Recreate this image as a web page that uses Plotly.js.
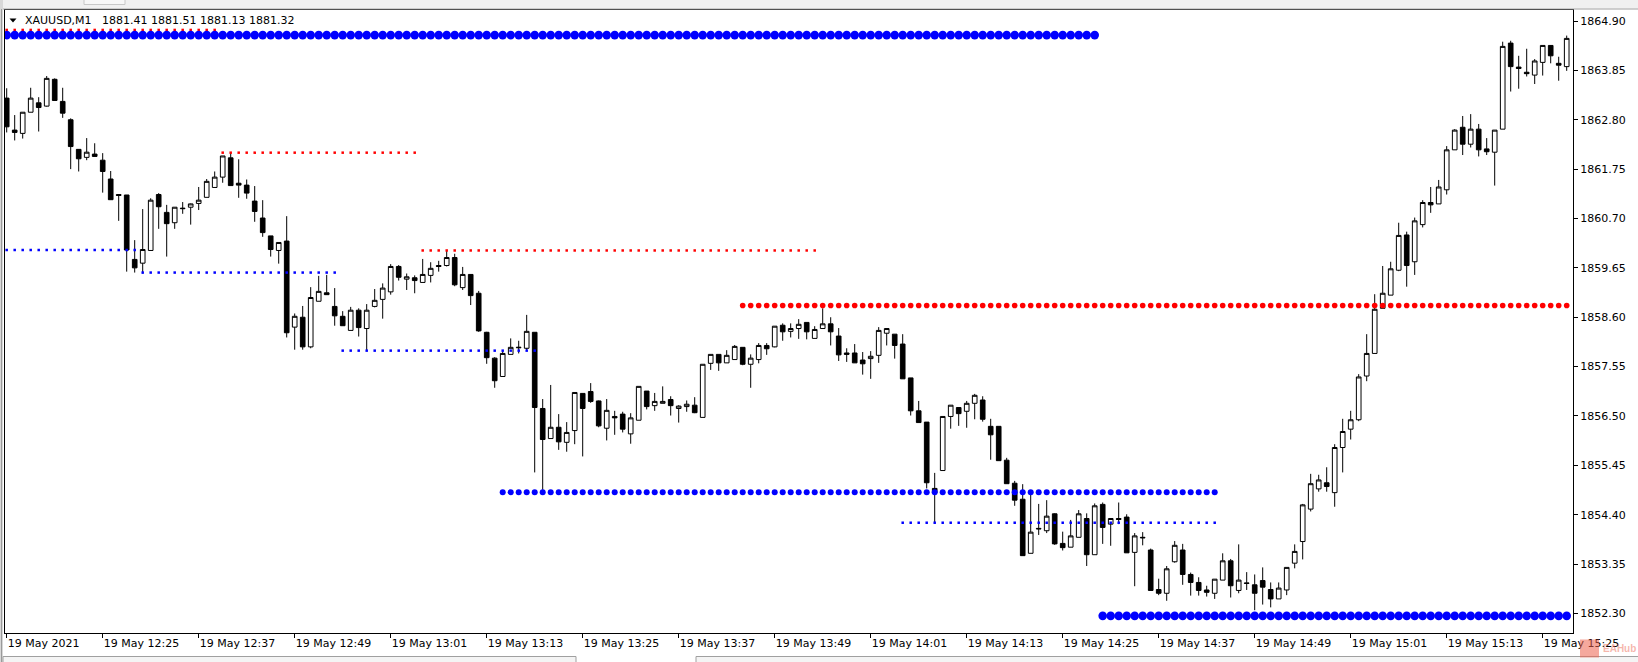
<!DOCTYPE html>
<html>
<head>
<meta charset="utf-8">
<script src="https://cdn.plot.ly/plotly-3.0.1.min.js"></script>
<style>
html,body{margin:0;padding:0;background:#ffffff;overflow:hidden;}
#chart{width:1638px;height:662px;}
</style>
</head>
<body>
<div id="chart"></div>
<script>
// ---------------- DATA ----------------
const symbolTitle = "XAUUSD,M1";
const headerQuote = ["1881.41", "1881.51", "1881.13", "1881.32"];

const tickLabels = ["19 May 2021","19 May 12:25","19 May 12:37","19 May 12:49","19 May 13:01",
  "19 May 13:13","19 May 13:25","19 May 13:37","19 May 13:49","19 May 14:01","19 May 14:13",
  "19 May 14:25","19 May 14:37","19 May 14:49","19 May 15:01","19 May 15:13","19 May 15:25"];
const barsPerTick = 12;

const priceTicks = [1852.30,1853.35,1854.40,1855.45,1856.50,1857.55,1858.60,1859.65,1860.70,1861.75,1862.80,1863.85,1864.90];

const openP = [
1863.26,1862.58,1862.51,1862.96,1863.16,1863.09,1863.66,1863.19,1862.80,1862.17,
1862.00,1862.07,1861.94,1861.54,1861.21,1861.20,1859.83,1859.75,1860.02,1861.21,
1860.83,1860.61,1860.92,1860.94,1861.02,1861.15,1861.36,1861.58,1861.99,1861.45,
1861.41,1861.07,1860.71,1860.33,1860.02,1860.22,1858.39,1858.60,1857.97,1858.94,
1859.12,1858.83,1858.62,1858.32,1858.75,1858.36,1858.83,1858.98,1859.14,1859.68,
1859.41,1859.44,1859.34,1859.49,1859.70,1859.70,1859.87,1859.23,1859.51,1859.11,
1858.28,1857.73,1857.34,1857.81,1857.95,1857.94,1858.28,1856.66,1856.02,1856.26,
1855.94,1856.19,1856.98,1857.02,1856.82,1856.24,1856.49,1856.54,1856.12,1856.41,
1857.03,1856.72,1856.77,1856.85,1856.66,1856.70,1856.73,1856.47,1857.62,1857.81,
1857.63,1857.70,1857.96,1857.60,1857.70,1858.00,1857.97,1858.43,1858.30,1858.36,
1858.49,1858.15,1858.36,1858.46,1858.20,1857.84,1857.84,1857.69,1857.72,1857.79,
1858.26,1858.24,1858.03,1857.31,1856.61,1856.37,1854.96,1855.34,1856.49,1856.68,
1856.60,1856.77,1856.84,1856.28,1856.28,1855.56,1855.07,1854.73,1853.58,1854.11,
1854.06,1854.42,1853.79,1853.71,1853.92,1854.32,1853.55,1854.62,1854.20,1854.32,
1854.35,1853.60,1853.92,1853.65,1852.81,1852.73,1853.40,1853.65,1853.13,1852.96,
1852.80,1852.73,1853.01,1853.42,1852.79,1852.95,1852.91,1853.00,1852.81,1852.61,
1852.80,1853.37,1853.83,1854.52,1854.95,1855.08,1854.87,1855.83,1856.22,1856.42,
1857.35,1857.83,1858.79,1859.07,1859.60,1860.35,1859.78,1860.57,1861.04,1861.01,
1861.31,1862.16,1862.64,1862.28,1862.60,1862.18,1862.11,1862.60,1864.43,1863.92,
1863.81,1863.75,1864.02,1864.38,1864.00,1863.93];

const highP = [
1863.47,1862.90,1862.96,1863.48,1863.28,1863.73,1863.68,1863.48,1862.83,1862.17,
1862.41,1862.30,1862.09,1861.71,1861.21,1861.20,1860.24,1860.90,1861.13,1861.24,
1860.99,1860.94,1861.05,1861.02,1861.37,1861.54,1861.70,1862.03,1862.10,1861.96,
1861.53,1861.39,1861.09,1860.33,1860.19,1860.75,1858.68,1858.84,1859.24,1859.48,
1859.50,1859.22,1858.73,1858.82,1858.79,1858.88,1859.20,1859.32,1859.73,1859.71,
1859.53,1859.49,1859.84,1859.77,1859.80,1860.01,1859.95,1859.67,1859.51,1859.16,
1858.29,1857.75,1857.88,1858.15,1858.10,1858.65,1858.28,1856.86,1857.16,1856.54,
1856.37,1857.00,1856.98,1857.20,1856.83,1856.86,1856.61,1856.59,1856.56,1857.13,
1857.03,1856.99,1857.13,1856.92,1856.73,1856.83,1856.90,1857.60,1857.81,1857.81,
1857.90,1858.01,1857.96,1857.81,1858.05,1858.05,1858.41,1858.47,1858.47,1858.56,
1858.49,1858.41,1858.79,1858.60,1858.37,1857.94,1858.03,1857.86,1857.88,1858.39,
1858.36,1858.24,1858.24,1857.31,1856.82,1856.37,1855.29,1856.49,1856.73,1856.68,
1856.82,1856.97,1856.92,1856.44,1856.28,1855.61,1855.12,1855.05,1854.86,1854.63,
1854.71,1854.43,1854.04,1854.29,1854.50,1854.43,1854.64,1854.66,1854.32,1854.66,
1854.41,1854.01,1854.03,1853.68,1853.04,1853.31,1853.84,1853.78,1853.17,1853.07,
1852.89,1853.03,1853.58,1853.46,1853.77,1853.18,1853.13,1853.28,1852.96,1852.96,
1853.28,1853.77,1854.63,1855.27,1855.25,1855.41,1855.90,1856.44,1856.61,1857.39,
1858.24,1859.09,1859.69,1859.78,1860.61,1860.42,1860.72,1861.09,1861.37,1861.52,
1862.24,1862.60,1862.88,1862.92,1862.71,1862.41,1862.58,1864.46,1864.48,1864.16,
1864.31,1864.09,1864.38,1864.38,1864.14,1864.59];

const lowP = [
1862.53,1862.36,1862.40,1862.96,1862.55,1863.08,1863.21,1862.84,1861.75,1861.70,
1861.94,1862.02,1861.25,1861.10,1860.65,1859.57,1859.55,1859.53,1860.02,1860.48,
1859.89,1860.48,1860.80,1860.57,1860.88,1861.15,1861.36,1861.46,1861.40,1861.14,
1861.12,1860.63,1860.31,1859.89,1859.74,1858.17,1857.91,1857.91,1857.94,1858.94,
1859.08,1858.42,1858.42,1858.32,1858.19,1857.89,1858.81,1858.57,1859.08,1859.38,
1859.18,1859.11,1859.34,1859.34,1859.57,1859.68,1859.26,1859.18,1858.86,1858.29,
1857.61,1857.10,1857.34,1857.81,1857.83,1857.90,1855.30,1854.93,1856.02,1855.78,
1855.74,1855.90,1855.64,1856.78,1856.26,1855.98,1856.10,1856.15,1855.91,1856.41,
1856.64,1856.61,1856.77,1856.51,1856.36,1856.59,1856.56,1856.47,1857.48,1857.46,
1857.63,1857.70,1857.58,1857.10,1857.62,1857.80,1857.96,1858.10,1858.17,1858.14,
1858.13,1858.15,1858.36,1858.00,1857.67,1857.65,1857.63,1857.38,1857.29,1857.63,
1858.00,1857.72,1857.29,1856.51,1856.36,1854.96,1854.22,1855.34,1856.23,1856.29,
1856.25,1856.43,1856.38,1855.57,1855.55,1855.06,1854.59,1853.53,1853.58,1853.97,
1854.01,1853.76,1853.64,1853.71,1853.92,1853.31,1853.55,1853.78,1853.74,1854.20,
1853.59,1852.88,1853.75,1852.79,1852.69,1852.57,1853.38,1852.91,1852.68,1852.68,
1852.66,1852.61,1853.01,1852.64,1852.73,1852.80,1852.37,1852.49,1852.43,1852.61,
1852.69,1853.26,1853.45,1854.47,1854.89,1854.89,1854.57,1855.30,1856.00,1856.39,
1857.24,1857.83,1858.79,1859.07,1859.58,1859.25,1859.50,1860.51,1860.82,1861.01,
1861.21,1862.16,1862.05,1862.21,1862.02,1862.05,1861.40,1862.60,1863.40,1863.46,
1863.72,1863.56,1863.74,1864.00,1863.63,1863.84];

const closeP = [
1862.65,1862.53,1862.96,1863.26,1863.06,1863.68,1863.21,1862.94,1862.23,1861.97,
1862.11,1862.02,1861.70,1861.10,1861.19,1860.03,1859.65,1860.04,1861.09,1860.95,
1860.59,1860.94,1860.91,1861.01,1861.09,1861.49,1861.58,1862.03,1861.40,1861.41,
1861.24,1860.85,1860.40,1860.04,1860.19,1858.27,1858.62,1857.97,1859.02,1859.15,
1859.08,1858.63,1858.42,1858.75,1858.38,1858.75,1858.96,1859.22,1859.68,1859.45,
1859.46,1859.38,1859.51,1859.64,1859.68,1859.87,1859.29,1859.51,1859.06,1858.31,
1857.74,1857.25,1857.83,1857.96,1857.96,1858.30,1856.68,1856.00,1856.26,1855.95,
1856.15,1857.00,1856.66,1856.81,1856.29,1856.62,1856.46,1856.22,1856.46,1857.13,
1856.70,1856.81,1856.81,1856.72,1856.71,1856.75,1856.57,1857.60,1857.81,1857.63,
1857.79,1857.98,1857.60,1857.73,1858.00,1857.93,1858.41,1858.29,1858.36,1858.45,
1858.29,1858.34,1858.46,1858.29,1857.80,1857.81,1857.63,1857.61,1857.77,1858.32,
1858.36,1858.00,1857.29,1856.61,1856.36,1855.08,1854.87,1856.49,1856.73,1856.55,
1856.77,1856.94,1856.43,1856.10,1855.55,1855.06,1854.71,1853.53,1854.03,1854.10,
1854.37,1853.78,1853.70,1853.95,1854.42,1853.55,1854.59,1854.13,1854.32,1854.30,
1853.59,1853.95,1853.91,1852.79,1852.73,1853.25,1853.75,1853.13,1852.96,1852.79,
1852.75,1853.03,1853.42,1852.89,1853.01,1852.94,1852.73,1852.86,1852.61,1852.84,
1853.28,1853.62,1854.61,1855.06,1855.14,1855.00,1855.83,1856.17,1856.42,1857.33,
1857.83,1858.77,1859.11,1859.63,1860.34,1859.70,1860.65,1861.04,1860.99,1861.37,
1862.16,1862.58,1862.28,1862.60,1862.16,1862.12,1862.58,1864.36,1863.93,1863.89,
1863.78,1864.05,1864.38,1864.16,1863.96,1864.53];

// indicator levels (price) with first/last bar index
const strongSupportLevels = [1864.60, 1852.25];
const strongSupportFrom   = [0, 137];
const strongSupportTo     = [136, 195];

const supportLevels = [1854.88];
const supportFrom   = [62];
const supportTo     = [151];

const resistanceLevels = [1858.85];
const resistanceFrom   = [92];
const resistanceTo     = [195];

const minorSupportLevels = [1860.03, 1859.55, 1857.89, 1854.23];
const minorSupportFrom   = [0, 17, 42, 112];
const minorSupportTo     = [16, 41, 66, 151];

const minorResistanceLevels = [1864.71, 1862.10, 1860.02];
const minorResistanceFrom   = [0, 27, 52];
const minorResistanceTo     = [26, 51, 101];

// ---------------- LAYOUT GEOMETRY ----------------
const W = 1638, H = 662;
const ML = 5, MT = 10, PW = 1568, PH = 623;
const px = x => (x - ML) / PW;
const py = y => 1 - (y - MT) / PH;

const barIdx = openP.map((_, i) => i);
const tickIdx = tickLabels.map((_, k) => k * barsPerTick);

function levelTrace(levels, from, to, color, size, symbol) {
  const xs = [], ys = [];
  levels.forEach((lv, k) => {
    for (let i = from[k]; i <= to[k]; i++) { xs.push(i); ys.push(lv); }
    xs.push(null); ys.push(null);
  });
  return {type:'scatter', mode:'markers', x:xs, y:ys, hoverinfo:'skip',
    marker:{color:color, size:size, symbol:symbol, line:{width:0}}, cliponaxis:true};
}

const traces = [
  {type:'candlestick', x:barIdx, open:openP, high:highP, low:lowP, close:closeP,
   increasing:{line:{color:'#000000', width:1}, fillcolor:'#ffffff'},
   decreasing:{line:{color:'#000000', width:1}, fillcolor:'#000000'},
   whiskerwidth:0, hoverinfo:'skip'},
  levelTrace(minorResistanceLevels, minorResistanceFrom, minorResistanceTo, '#ff0000', 2.5, 'square'),
  levelTrace(minorSupportLevels, minorSupportFrom, minorSupportTo, '#0000ff', 2.5, 'square'),
  levelTrace(resistanceLevels, resistanceFrom, resistanceTo, '#ff0000', 5.6, 'circle'),
  levelTrace(supportLevels, supportFrom, supportTo, '#0000ff', 6, 'circle'),
  levelTrace(strongSupportLevels, strongSupportFrom, strongSupportTo, '#0000ff', 8.6, 'circle')
];

const FONT = 'DejaVu Sans';

const shapes = [
  // window chrome top strip
  {type:'rect', xref:'paper', yref:'paper', x0:px(0), x1:px(W), y0:py(0), y1:py(8.5),
   fillcolor:'#f0f0f0', line:{width:0}, layer:'below'},
  {type:'rect', xref:'paper', yref:'paper', x0:px(84), x1:px(125), y0:py(-2), y1:py(4.5),
   fillcolor:'#f7f7f7', line:{color:'#c8c8c8', width:1}},
  {type:'line', xref:'paper', yref:'paper', x0:px(2), x1:px(W), y0:py(9), y1:py(9),
   line:{color:'#a0a0a0', width:1}},
  // left window border
  {type:'rect', xref:'paper', yref:'paper', x0:px(0), x1:px(3), y0:py(0), y1:py(H),
   fillcolor:'#d8d8d8', line:{width:0}},
  {type:'line', xref:'paper', yref:'paper', x0:px(1.5), x1:px(1.5), y0:py(9), y1:py(H),
   line:{color:'#9a9a9a', width:1}},
  // bottom tabs
  {type:'rect', xref:'paper', yref:'paper', x0:px(3), x1:px(576), y0:py(656.5), y1:py(664),
   fillcolor:'#f4f4f4', line:{color:'#a0a0a0', width:1}},
  {type:'rect', xref:'paper', yref:'paper', x0:px(696), x1:px(1640), y0:py(656.5), y1:py(664),
   fillcolor:'#f4f4f4', line:{color:'#a0a0a0', width:1}},
  // header arrow
  {type:'path', xref:'paper', yref:'paper',
   path:'M '+px(9.5)+','+py(18.5)+' L '+px(16.5)+','+py(18.5)+' L '+px(13)+','+py(22.5)+' Z',
   fillcolor:'#000000', line:{width:0}},
  // watermark icon
  {type:'rect', xref:'paper', yref:'paper', x0:px(1580), x1:px(1599), y0:py(639.5), y1:py(657.5),
   fillcolor:'rgba(236,96,76,0.55)', line:{width:0}}
];

const annotations = [
  {xref:'paper', yref:'paper', x:px(23), y:py(20.5), xanchor:'left', yanchor:'middle',
   text: symbolTitle + '&nbsp;&nbsp;&nbsp;' + headerQuote.join(' '), showarrow:false,
   font:{family:FONT, size:11, color:'#000000'}},
  {xref:'paper', yref:'paper', x:px(1601), y:py(648.5), xanchor:'left', yanchor:'middle',
   text:'<b>EAHub</b>', showarrow:false,
   font:{family:'Liberation Sans', size:10, color:'rgba(236,110,90,0.5)'}}
];

const layout = {
  width: W, height: H,
  margin: {l:ML, r:W-ML-PW, t:MT, b:H-MT-PH, pad:0},
  paper_bgcolor:'#ffffff', plot_bgcolor:'#ffffff',
  showlegend:false,
  boxgap:0.42, boxgroupgap:0,
  font:{family:FONT, size:11, color:'#000000'},
  xaxis:{
    range:[-0.2125, 195.7875], type:'linear',
    tickmode:'array', tickvals:tickIdx, ticktext:tickLabels,
    ticks:'outside', ticklen:4, tickwidth:1, tickcolor:'#000000',
    ticklabelposition:'outside right', ticklabeloverflow:'allow',
    tickfont:{family:FONT, size:11, color:'#000000'},
    showgrid:false, zeroline:false,
    showline:true, mirror:true, linecolor:'#000000', linewidth:1,
    rangeslider:{visible:false}, fixedrange:true
  },
  yaxis:{
    side:'right', range:[1851.885, 1865.134],
    tickmode:'array', tickvals:priceTicks, tickformat:'.2f',
    ticks:'outside', ticklen:4, tickwidth:1, tickcolor:'#000000',
    tickfont:{family:FONT, size:11, color:'#000000'},
    showgrid:false, zeroline:false,
    showline:true, mirror:true, linecolor:'#000000', linewidth:1,
    fixedrange:true
  },
  shapes: shapes,
  annotations: annotations
};

Plotly.newPlot('chart', traces, layout, {staticPlot:true, displayModeBar:false});
</script>
</body>
</html>
